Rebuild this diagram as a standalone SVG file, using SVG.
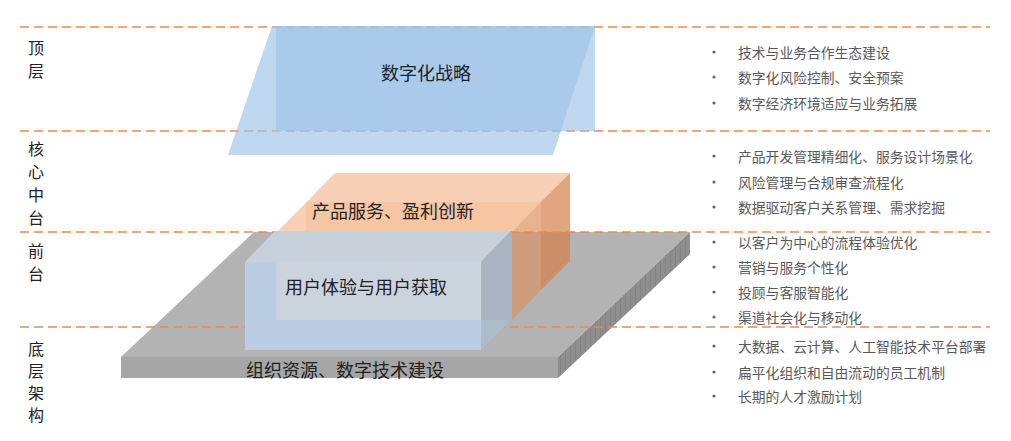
<svg xmlns="http://www.w3.org/2000/svg" width="1011" height="441" viewBox="0 0 1011 441">
  <defs>
    <style>
      .sep { stroke: #ED8A48; stroke-width: 1.6; stroke-dasharray: 9 5; fill: none; }
      .main { font-family: "Noto Sans CJK SC", "Noto Sans", sans-serif; font-size: 18px; fill: #222; text-anchor: middle; dominant-baseline: central; }
      .side { font-family: "Noto Sans CJK SC", "Noto Sans", sans-serif; font-size: 16px; fill: #222; text-anchor: middle; dominant-baseline: central; }
      .item { font-family: "Noto Sans CJK SC", "Noto Sans", sans-serif; font-size: 13.8px; fill: #595959; dominant-baseline: central; }
      .dot { fill: #666; }
      .sky { fill: #9DC3E6; fill-opacity: 0.65; }
    </style>
    <pattern id="vstripe" width="5" height="10" patternUnits="userSpaceOnUse">
      <rect width="5" height="10" fill="#8E8E8E"/>
      <rect width="1" height="10" fill="#838383"/>
    </pattern>
  </defs>
  <rect width="1011" height="441" fill="#FFFFFF"/>

  <!-- base slab -->
  <g id="layer-base">
    <polygon points="254,232 690,232 558,357 121,357" fill="#B3B3B3"/>
    <rect x="121" y="357" width="437" height="21" fill="#A6A6A6"/>
    <polygon points="558,357 690,232 690,254 558,378" fill="url(#vstripe)"/>
    <text class="main" x="345" y="369">组织资源、数字技术建设</text>
  </g>

  <!-- core box (orange) -->
  <g id="layer-core">
    <polygon points="277,232 335,173 570,173 512,232" fill="#F4B183" fill-opacity="0.6"/>
    <rect x="306" y="202" width="235" height="30" fill="#F0A874" fill-opacity="0.25"/>
    <polygon points="512,232 541,202 541,290 512,320" fill="#DE8E5A" fill-opacity="0.6"/>
    <polygon points="541,202 570,173 570,261 541,290" fill="#D4804A" fill-opacity="0.7"/>
    <text class="main" x="393" y="210">产品服务、盈利创新</text>
  </g>

  <!-- separators -->
  <g id="connectors">
    <line class="sep" x1="20" y1="27" x2="990" y2="27"/>
    <line class="sep" x1="20" y1="131" x2="990" y2="131"/>
    <line class="sep" x1="20" y1="232" x2="990" y2="232"/>
    <line class="sep" x1="20" y1="327" x2="990" y2="327"/>
  </g>

  <!-- front box (blue) -->
  <g id="layer-front">
    <polygon points="245,262 275,231 511,231 481,262" fill="#C7D1DC"/>
    <rect x="245" y="262" width="236" height="88" fill="#BACDE2"/>
    <rect x="276" y="262" width="205" height="58" fill="#CBD3DD"/>
    <polygon points="481,262 511,231 511,320 481,350" fill="#A8B4C1"/>
    <polygon points="481,320 511,320 481,350" fill="#AFC2D6" fill-opacity="0.6"/>
    <text class="main" x="366" y="286">用户体验与用户获取</text>
  </g>

  <!-- top layer -->
  <g id="layer-top">
    <polygon class="sky" points="272,26 595,26 553,155 228,155"/>
    <rect class="sky" x="276" y="26" width="319" height="105"/>
    <text class="main" x="426" y="72">数字化战略</text>
  </g>

  <!-- left labels -->
  <g id="labels-left">
    <text class="side" x="36" y="47">顶</text>
    <text class="side" x="36" y="70">层</text>
    <text class="side" x="36" y="148">核</text>
    <text class="side" x="36" y="171">心</text>
    <text class="side" x="36" y="194">中</text>
    <text class="side" x="36" y="217">台</text>
    <text class="side" x="36" y="250">前</text>
    <text class="side" x="36" y="273">台</text>
    <text class="side" x="36" y="348">底</text>
    <text class="side" x="36" y="370">层</text>
    <text class="side" x="36" y="392">架</text>
    <text class="side" x="36" y="414">构</text>
  </g>

  <!-- right lists -->
  <g id="list-top">
    <circle class="dot" cx="714" cy="52" r="1.6"/><text class="item" x="738" y="52">技术与业务合作生态建设</text>
    <circle class="dot" cx="714" cy="77" r="1.6"/><text class="item" x="738" y="77">数字化风险控制、安全预案</text>
    <circle class="dot" cx="714" cy="103" r="1.6"/><text class="item" x="738" y="103">数字经济环境适应与业务拓展</text>
  </g>
  <g id="list-core">
    <circle class="dot" cx="714" cy="156" r="1.6"/><text class="item" x="738" y="156">产品开发管理精细化、服务设计场景化</text>
    <circle class="dot" cx="714" cy="182" r="1.6"/><text class="item" x="738" y="182">风险管理与合规审查流程化</text>
    <circle class="dot" cx="714" cy="207" r="1.6"/><text class="item" x="738" y="207">数据驱动客户关系管理、需求挖掘</text>
  </g>
  <g id="list-front">
    <circle class="dot" cx="714" cy="242" r="1.6"/><text class="item" x="738" y="242">以客户为中心的流程体验优化</text>
    <circle class="dot" cx="714" cy="267" r="1.6"/><text class="item" x="738" y="267">营销与服务个性化</text>
    <circle class="dot" cx="714" cy="292" r="1.6"/><text class="item" x="738" y="292">投顾与客服智能化</text>
    <circle class="dot" cx="714" cy="317" r="1.6"/><text class="item" x="738" y="317">渠道社会化与移动化</text>
  </g>
  <g id="list-base">
    <circle class="dot" cx="714" cy="346" r="1.6"/><text class="item" x="738" y="346">大数据、云计算、人工智能技术平台部署</text>
    <circle class="dot" cx="714" cy="372" r="1.6"/><text class="item" x="738" y="372">扁平化组织和自由流动的员工机制</text>
    <circle class="dot" cx="714" cy="396" r="1.6"/><text class="item" x="738" y="396">长期的人才激励计划</text>
  </g>
</svg>
